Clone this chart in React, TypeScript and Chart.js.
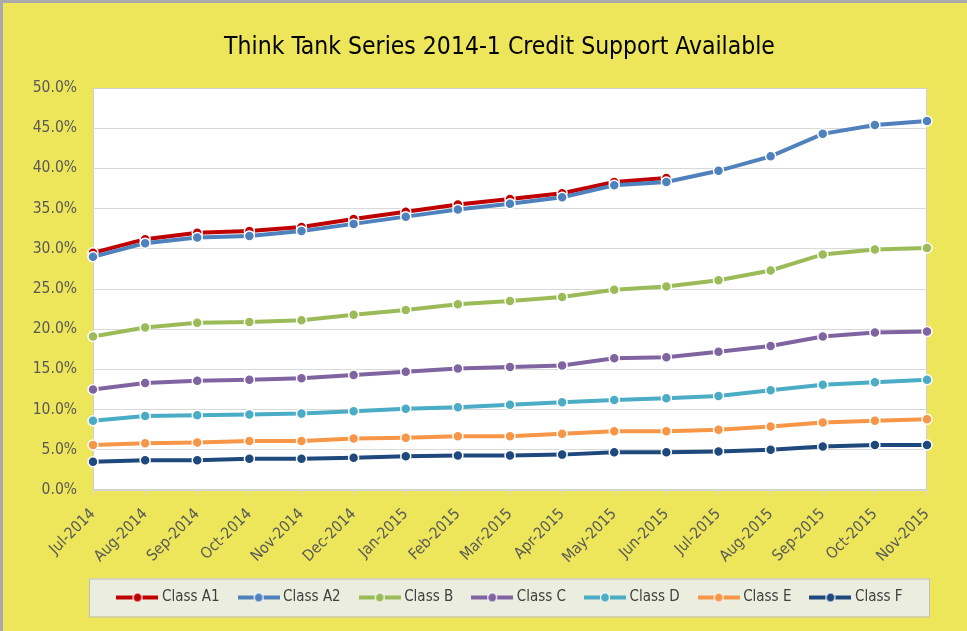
import React, { useEffect, useRef } from "react";
import { Chart, registerables } from "chart.js";

Chart.register(...registerables);

const TITLE = "Think Tank Series 2014-1 Credit Support Available";

const MONTHS = [
  "Jul-2014", "Aug-2014", "Sep-2014", "Oct-2014", "Nov-2014", "Dec-2014",
  "Jan-2015", "Feb-2015", "Mar-2015", "Apr-2015", "May-2015", "Jun-2015",
  "Jul-2015", "Aug-2015", "Sep-2015", "Oct-2015", "Nov-2015",
];

const SERIES_NAMES = ["Class A1", "Class A2", "Class B", "Class C", "Class D", "Class E", "Class F"];

const CLASS_A1 = [29.5, 31.2, 32.0, 32.2, 32.7, 33.7, 34.6, 35.5, 36.2, 36.9, 38.3, 38.8, null, null, null, null, null];
const CLASS_A2 = [29.0, 30.7, 31.4, 31.6, 32.2, 33.1, 34.0, 34.9, 35.6, 36.4, 37.9, 38.3, 39.7, 41.5, 44.3, 45.4, 45.9];
const CLASS_B = [19.1, 20.2, 20.8, 20.9, 21.1, 21.8, 22.4, 23.1, 23.5, 24.0, 24.9, 25.3, 26.1, 27.3, 29.3, 29.9, 30.1];
const CLASS_C = [12.5, 13.3, 13.6, 13.7, 13.9, 14.3, 14.7, 15.1, 15.3, 15.5, 16.4, 16.5, 17.2, 17.9, 19.1, 19.6, 19.7];
const CLASS_D = [8.6, 9.2, 9.3, 9.4, 9.5, 9.8, 10.1, 10.3, 10.6, 10.9, 11.2, 11.4, 11.7, 12.4, 13.1, 13.4, 13.7];
const CLASS_E = [5.6, 5.8, 5.9, 6.1, 6.1, 6.4, 6.5, 6.7, 6.7, 7.0, 7.3, 7.3, 7.5, 7.9, 8.4, 8.6, 8.8];
const CLASS_F = [3.5, 3.7, 3.7, 3.9, 3.9, 4.0, 4.2, 4.3, 4.3, 4.4, 4.7, 4.7, 4.8, 5.0, 5.4, 5.6, 5.6];

const SERIES_VALUES = [CLASS_A1, CLASS_A2, CLASS_B, CLASS_C, CLASS_D, CLASS_E, CLASS_F];
const SERIES_COLORS = ["#C00000", "#4F81BD", "#9BBB59", "#8064A2", "#4BACC6", "#F79646", "#1F497D"];

const Y_MIN = 0;
const Y_MAX = 50;
const Y_STEP = 5;

const FONT = "'Liberation Sans Narrow', 'DejaVu Sans Condensed', Lato, sans-serif";
const BG_YELLOW = "#EDE55A";

function makeLegendMarker(color: string): HTMLCanvasElement {
  const c = document.createElement("canvas");
  c.width = 42;
  c.height = 12;
  const ctx = c.getContext("2d")!;
  ctx.strokeStyle = color;
  ctx.lineWidth = 4;
  ctx.beginPath();
  ctx.moveTo(0, 6);
  ctx.lineTo(42, 6);
  ctx.stroke();
  ctx.beginPath();
  ctx.arc(21, 6, 4.5, 0, Math.PI * 2);
  ctx.fillStyle = color;
  ctx.fill();
  ctx.lineWidth = 1.2;
  ctx.strokeStyle = "#ffffff";
  ctx.stroke();
  return c;
}

const backgroundPlugin = {
  id: "bgPlugin",
  afterUpdate(chart: any) {
    const lg = chart.legend;
    if (lg) {
      lg.left += 24;
      lg.right += 24;
    }
    const tt = chart.titleBlock;
    if (tt) {
      tt.left += 12;
      tt.right += 12;
    }
  },
  beforeDraw(chart: any) {
    const { ctx, width, height, chartArea } = chart;
    ctx.save();
    ctx.fillStyle = BG_YELLOW;
    ctx.fillRect(0, 0, width, height);
    ctx.fillStyle = "#A9A9A9";
    ctx.fillRect(0, 0, width, 3);
    ctx.fillRect(0, 0, 3, height);
    ctx.fillStyle = "#FFFFFF";
    ctx.fillRect(chartArea.left, chartArea.top, chartArea.right - chartArea.left, chartArea.bottom - chartArea.top);
    const legend = chart.legend;
    if (legend && legend.legendHitBoxes && legend.legendHitBoxes.length) {
      const hb = legend.legendHitBoxes[0];
      const cy = hb.top + hb.height / 2;
      const x0 = chartArea.left - 4;
      const x1 = chartArea.right + 2;
      ctx.fillStyle = "#EBEDDF";
      ctx.fillRect(x0, cy - 19, x1 - x0, 38);
      ctx.strokeStyle = "#BFBFBF";
      ctx.lineWidth = 1;
      ctx.strokeRect(x0 + 0.5, cy - 19 + 0.5, x1 - x0, 38);
    }
    ctx.restore();
  },
  beforeDatasetsDraw(chart: any) {
    const { ctx, chartArea } = chart;
    ctx.save();
    ctx.strokeStyle = "#D0D0D0";
    ctx.lineWidth = 1;
    ctx.strokeRect(chartArea.left + 0.5, chartArea.top + 0.5, chartArea.right - chartArea.left - 1, chartArea.bottom - chartArea.top - 1);
    ctx.restore();
  },
};

export default function App() {
  const canvasRef = useRef<HTMLCanvasElement | null>(null);

  useEffect(() => {
    document.body.style.margin = "0";
    const canvas = canvasRef.current;
    if (!canvas) return;
    const markers = SERIES_COLORS.map(makeLegendMarker);

    const datasets = SERIES_NAMES.map((name, i) => ({
      label: name,
      data: SERIES_VALUES[i],
      borderColor: SERIES_COLORS[i],
      backgroundColor: SERIES_COLORS[i],
      pointBackgroundColor: SERIES_COLORS[i],
      pointBorderColor: "#FFFFFF",
      pointBorderWidth: 1.5,
      pointRadius: 5,
      borderWidth: 4,
      tension: 0,
      fill: false,
      spanGaps: false,
      order: SERIES_NAMES.length - i,
    }));

    const chart = new Chart(canvas, {
      type: "line",
      data: { labels: MONTHS, datasets },
      plugins: [backgroundPlugin],
      options: {
        responsive: false,
        animation: false,
        layout: { padding: { top: 10, left: 8, right: 0, bottom: 16 } },
        plugins: {
          tooltip: { enabled: false },
          title: {
            display: true,
            text: TITLE,
            color: "#000000",
            font: { family: FONT, size: 24.5, weight: "normal", lineHeight: 1.2 },
            padding: { top: 23, bottom: 25.6 },
          },
          legend: {
            position: "bottom",
            labels: {
              usePointStyle: true,
              pointStyleWidth: 34,
              boxHeight: 12,
              padding: 22,
              color: "#404040",
              font: { family: FONT, size: 15 },
              generateLabels: (ch: any) => {
                const items = (Chart.defaults as any).plugins.legend.labels.generateLabels(ch);
                return items.map((it: any) => ({ ...it, pointStyle: markers[it.datasetIndex] }));
              },
              sort: (a: any, b: any) => a.datasetIndex - b.datasetIndex,
            },
          },
        },
        scales: {
          x: {
            grid: { display: true, drawOnChartArea: false, drawTicks: true, tickLength: 5, color: "#D9D9D9" },
            border: { display: true, color: "#D9D9D9" },
            ticks: {
              minRotation: 45,
              maxRotation: 45,
              autoSkip: false,
              padding: 10,
              color: "#595959",
              font: { family: FONT, size: 15.5 },
            },
            afterFit: (s: any) => { s.height = 78; },
          },
          y: {
            min: Y_MIN,
            max: Y_MAX,
            grid: { color: "#D9D9D9", drawTicks: false },
            border: { display: false },
            ticks: {
              stepSize: Y_STEP,
              padding: 16,
              color: "#595959",
              font: { family: FONT, size: 15.5 },
              callback: (v: any) => Number(v).toFixed(1) + "%",
            },
            afterFit: (s: any) => { s.width = 85; },
          },
          yRight: {
            position: "right",
            display: true,
            grid: { display: false, drawTicks: false },
            border: { display: false },
            ticks: { display: false },
            afterFit: (s: any) => { s.width = 40; },
          },
        },
      } as any,
    });

    return () => chart.destroy();
  }, []);

  return (
    <div style={{ position: "fixed", left: 0, top: 0, width: 967, height: 631 }}>
      <canvas ref={canvasRef} width={967} height={631} />
    </div>
  );
}
